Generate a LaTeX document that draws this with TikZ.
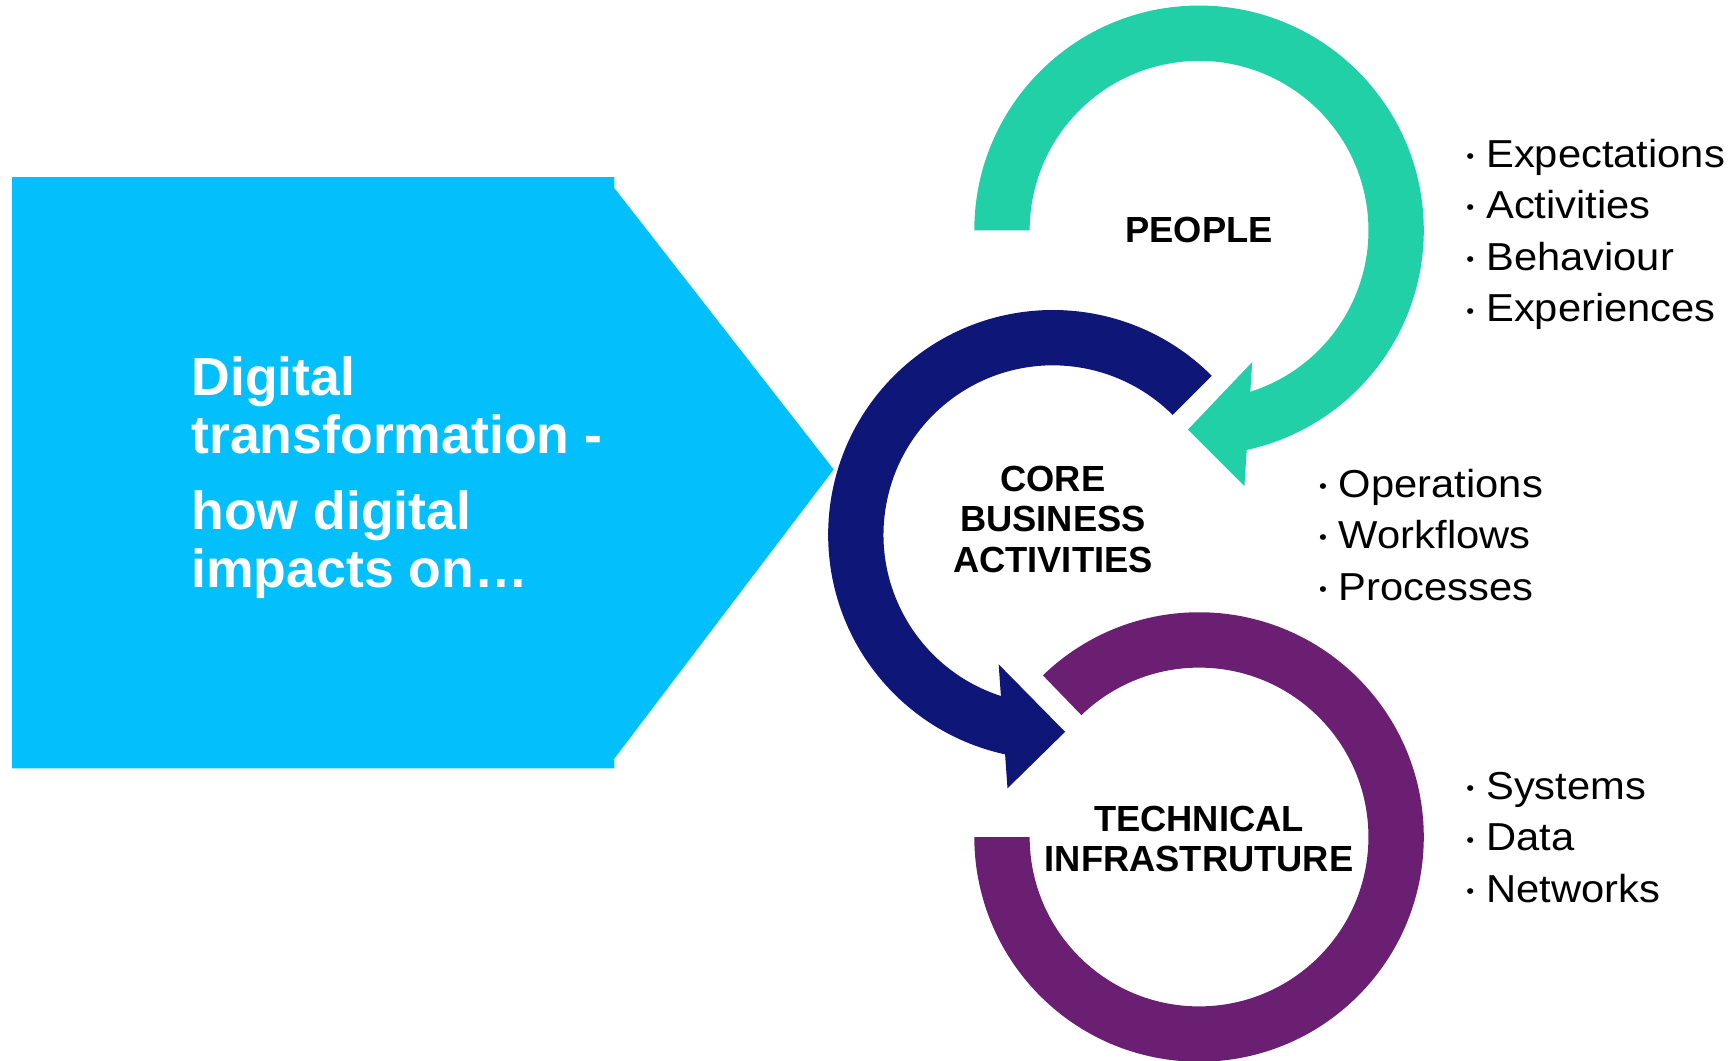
\documentclass[tikz,border=0pt]{standalone}
\usepackage{fontspec}
\setmainfont{Liberation Sans}
\newfontfamily\listfont[FakeStretch=1.07]{Liberation Sans}
\usetikzlibrary{positioning}

\definecolor{skyblue}{RGB}{3,191,251}
\definecolor{peoplegreen}{RGB}{33,208,166}
\definecolor{corenavy}{RGB}{14,23,120}
\definecolor{techpurple}{RGB}{106,31,115}

\newcommand{\bul}{\makebox[9pt][l]{\raisebox{1.7pt}{\fontsize{9.5}{9.5}\selectfont •}}}

\begin{document}
\begin{tikzpicture}[x=0.5pt, y=0.5pt,
    ringlabel/.style={font=\fontsize{16.4}{18.3}\selectfont\bfseries, align=center, inner sep=0pt},
    itemlist/.style={font=\listfont\fontsize{17.6}{23.3}\selectfont, align=left, anchor=north west, inner sep=0pt}]
    \useasboundingbox (0,0) rectangle (1568,-958);

    % banner
    \fill[skyblue] (11,-160) -- (555,-160) -- (555,-170) -- (753,-424) -- (555,-685) -- (555,-694) -- (11,-694) -- cycle;
    \node[font=\fontsize{24.2}{26}\selectfont\bfseries, text=white, align=left, anchor=north west, inner sep=0pt] (intro) at (172.5,-322)
        {Digital\\transformation -\\[8.4pt]how digital\\impacts on…};

    % ring centres
    \coordinate (pc) at (1083,-208);
    \coordinate (cc) at (951,-483);
    \coordinate (tc) at (1083,-756);

    % people
    \fill[peoplegreen] ([shift={(180:203)}]pc) arc[start angle=180, end angle=-78, radius=203]
        -- ([shift={(-78:153)}]pc) arc[start angle=-78, end angle=180, radius=153] -- cycle;
    \fill[peoplegreen] (1131,-327) -- (1073,-388) -- (1124,-439) -- cycle;

    % core business
    \fill[corenavy] ([shift={(45:203)}]cc) arc[start angle=45, end angle=258, radius=203]
        -- ([shift={(258:153)}]cc) arc[start angle=258, end angle=45, radius=153] -- cycle;
    \fill[corenavy] (902,-600) -- (962,-661) -- (910,-712) -- cycle;

    % technical infrastructure
    \fill[techpurple] ([shift={(134:203)}]tc) arc[start angle=134, end angle=-180, radius=203]
        -- ([shift={(-180:153)}]tc) arc[start angle=-180, end angle=134, radius=153] -- cycle;

    % labels
    \node[ringlabel] (people) at (pc) {PEOPLE};
    \node[ringlabel] (core) at (951,-469) {CORE\\BUSINESS\\ACTIVITIES};
    \node[ringlabel] (tech) at (1083,-758) {TECHNICAL\\INFRASTRUTURE};

    \node[itemlist] (peoplelist) at (1324,-125) {\bul Expectations\\\bul Activities\\\bul Behaviour\\\bul Experiences};
    \node[itemlist] (corelist) at (1191,-423) {\bul Operations\\\bul Workflows\\\bul Processes};
    \node[itemlist] (techlist) at (1324,-697) {\bul Systems\\\bul Data\\\bul Networks};
\end{tikzpicture}
\end{document}
